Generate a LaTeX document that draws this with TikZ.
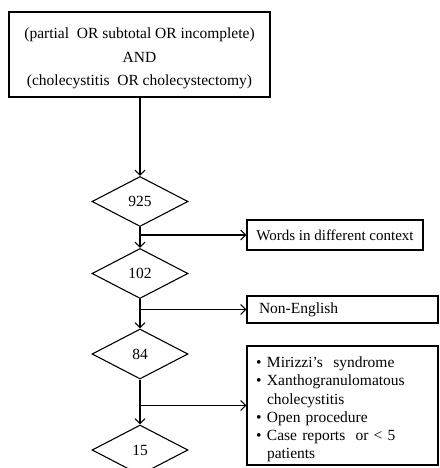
\documentclass[tikz,border=0pt]{standalone}
\usepackage{fontspec}
\setmainfont{Liberation Serif}
\usetikzlibrary{arrows.meta,shapes.geometric}

\begin{document}
\begin{tikzpicture}[x=1pt,y=-1pt,
	caja/.style={draw, line width=1.1pt, inner sep=0pt, font=\fontsize{15.5}{18.2}\selectfont},
	rombo/.style={diamond, draw, line width=1.1pt, inner sep=0pt,
		minimum width=96pt, minimum height=50pt, font=\fontsize{15.5}{18}\selectfont},
	flecha/.style={-{Straight Barb[length=5pt,width=10pt]}, line width=1.1pt}]
\useasboundingbox (0,0) rectangle (439,468);	%%%%	Margenes de la figura

%%%%%%%%%%%%%%%%%%%%%%%%%%%%%%%%%%%%%%%%%%%%%%%% 	BUSQUEDA
\node[caja, minimum width=261pt, minimum height=85pt, align=center,
	font=\fontsize{15.5}{23.5}\selectfont] (busqueda) at (139.5,54.5)
	{\raisebox{-3pt}[\height][\depth]{\begin{tabular}{@{}c@{}}
	(partial~ OR subtotal OR incomplete)\\AND\\(cholecystitis~ OR cholecystectomy)
	\end{tabular}}};	%%%%	Se baja un poco el texto

%%%%%%%%%%%%%%%%%%%%%%%%%%%%%%%%%%%%%%%%%%%%%%%% 	ROMBOS (numero de articulos)
\node[rombo] (d925) at (140,201.5) {925};
\node[rombo] (d102) at (140,273.5) {102};
\node[rombo] (d84)  at (140,354) {84};
\node[rombo] (d15)  at (140,450) {15};	%%%%	Queda cortado abajo

%%%%%%%%%%%%%%%%%%%%%%%%%%%%%%%%%%%%%%%%%%%%%%%% 	CAJAS DE EXCLUSION
\node[caja, minimum width=176pt, minimum height=30pt, font=\fontsize{15}{18}\selectfont]
	(words) at (335,235) {Words in different context};
\node[caja, minimum height=27pt, inner xsep=12pt, text width=167pt, align=left]
	(noneng) at (342.5,309.5) {Non-English};
\node[caja, minimum height=119pt, inner xsep=9pt, text width=173pt, align=left]
	(excl) at (342.5,405.5)
	{\raisebox{-4pt}[\height][\depth]{\begin{tabular}{@{}p{11pt}@{}l@{}}
	\textbullet & Mirizzi's~ syndrome\\
	\textbullet & Xanthogranulomatous\\
	            & cholecystitis\\
	\textbullet & Open procedure\\
	\textbullet & Case reports~ or < 5\\
	            & patients
	\end{tabular}}};

%%%%%%%%%%%%%%%%%%%%%%%%%%%%%%%%%%%%%%%%%%%%%%%% 	FLECHAS
\coordinate (b1) at (d925.south |- words.west);	%%%%	Puntos donde se ramifica
\coordinate (b2) at (d102.south |- noneng.west);
\coordinate (b3) at (d84.south |- excl.west);

\draw[flecha] (d925.north |- busqueda.south) -- (d925.north);
\draw[flecha] (d925.south) -- (d102.north);
\draw[flecha] (d102.south) -- (d84.north);
\draw[flecha] (d84.south) -- (d15.north);

\draw[flecha] (b1) -- (words.west);
\draw[flecha] (b2) -- (noneng.west);
\draw[flecha] (b3) -- (excl.west);

\end{tikzpicture}
\end{document}
